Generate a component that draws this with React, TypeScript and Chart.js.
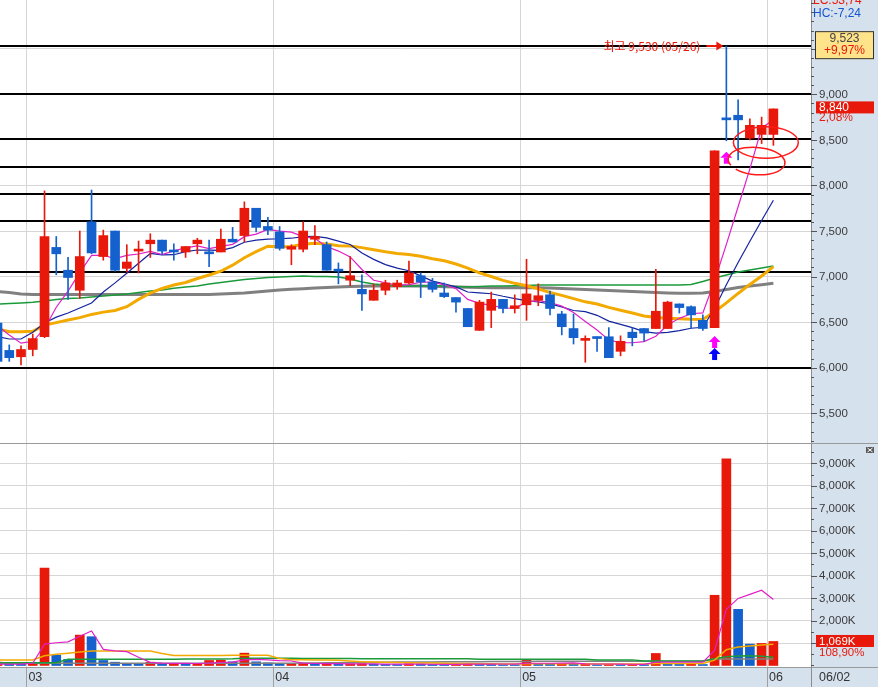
import React, { useEffect, useRef } from 'react';
import { Chart, registerables } from 'chart.js';

Chart.register(...registerables);

// ---------------- data ----------------
const monthGridIdx = [2.5, 23.5, 44.5, 65.5];
const monthLabels = ['03', '04', '05', '06'];
const lastDateLabel = '06/02';
const highDateLabel = '05/26';

const opens = [6490, 6190, 6120, 6200, 6340, 7320, 7070, 6850, 7600, 7220, 7500, 7090, 7280, 7360, 7400, 7290, 7270, 7360, 7270, 7270, 7410, 7450, 7750, 7550, 7490, 7300, 7300, 7410, 7350, 7080, 6960, 6860, 6740, 6850, 6890, 6930, 7010, 6940, 6820, 6770, 6650, 6410, 6630, 6750, 6650, 6690, 6740, 6800, 6590, 6430, 6300, 6340, 6340, 6180, 6390, 6430, 6430, 6430, 6700, 6670, 6520, 6440, 8740, 8770, 8520, 8560, 8560];
const highs = [6520, 6250, 6240, 6370, 7940, 7440, 7210, 7500, 7950, 7510, 7500, 7350, 7390, 7470, 7400, 7360, 7330, 7420, 7400, 7520, 7540, 7820, 7750, 7650, 7550, 7350, 7600, 7560, 7380, 7150, 7220, 7020, 6920, 6960, 6960, 7170, 7040, 6980, 6930, 6770, 6650, 6740, 6830, 6750, 6800, 7190, 6920, 6840, 6620, 6590, 6350, 6340, 6440, 6350, 6440, 6430, 7080, 6730, 6700, 6680, 6580, 8380, 9530, 8940, 8730, 8750, 8840];
const lows = [6050, 6070, 6030, 6130, 6330, 7020, 6750, 6760, 7250, 7180, 7060, 7050, 7040, 7210, 7240, 7180, 7210, 7250, 7110, 7270, 7380, 7380, 7490, 7460, 7290, 7130, 7270, 7350, 7070, 6920, 6900, 6630, 6740, 6800, 6860, 6920, 6770, 6830, 6770, 6610, 6450, 6410, 6440, 6600, 6600, 6520, 6680, 6580, 6360, 6260, 6060, 6180, 6110, 6130, 6240, 6290, 6430, 6430, 6600, 6430, 6410, 6440, 8490, 8280, 8500, 8460, 8440];
const closes = [6070, 6110, 6200, 6320, 7440, 7250, 6990, 7220, 7260, 7450, 7070, 7160, 7300, 7400, 7280, 7270, 7330, 7400, 7250, 7410, 7380, 7750, 7540, 7510, 7310, 7330, 7500, 7440, 7070, 7060, 7010, 6810, 6850, 6930, 6930, 7040, 6940, 6860, 6780, 6720, 6450, 6720, 6750, 6650, 6680, 6810, 6790, 6650, 6450, 6330, 6320, 6320, 6110, 6290, 6330, 6380, 6620, 6720, 6660, 6580, 6430, 8380, 8720, 8720, 8660, 8660, 8840];

const ma5 = [6460, 6360, 6270, 6290, 6428, 6664, 6840, 7044, 7232, 7234, 7198, 7232, 7248, 7276, 7242, 7282, 7316, 7336, 7306, 7332, 7354, 7438, 7466, 7518, 7498, 7488, 7438, 7418, 7330, 7280, 7216, 7078, 6960, 6932, 6906, 6912, 6938, 6940, 6910, 6868, 6750, 6706, 6684, 6658, 6650, 6722, 6736, 6716, 6676, 6606, 6508, 6414, 6306, 6274, 6274, 6286, 6346, 6468, 6542, 6592, 6602, 6954, 7354, 7766, 8182, 8628, 8720];
const ma10 = [6340, 6315, 6315, 6390, 6490, 6555, 6600, 6655, 6710, 6831, 6931, 7036, 7146, 7254, 7238, 7240, 7274, 7292, 7291, 7287, 7318, 7377, 7401, 7412, 7415, 7421, 7438, 7442, 7424, 7389, 7352, 7258, 7189, 7131, 7093, 7064, 7008, 6950, 6921, 6887, 6831, 6822, 6812, 6784, 6759, 6736, 6721, 6700, 6667, 6628, 6615, 6575, 6511, 6475, 6440, 6397, 6380, 6387, 6408, 6433, 6444, 6650, 6911, 7154, 7387, 7615, 7837];
const ma20 = [6425, 6395, 6395, 6400, 6468, 6495, 6523, 6550, 6585, 6610, 6628, 6670, 6750, 6820, 6870, 6907, 6935, 6979, 7017, 7059, 7125, 7207, 7274, 7333, 7327, 7331, 7356, 7367, 7358, 7338, 7335, 7318, 7295, 7272, 7254, 7243, 7223, 7196, 7173, 7138, 7092, 7040, 7001, 6958, 6926, 6900, 6865, 6825, 6794, 6758, 6723, 6699, 6662, 6630, 6600, 6567, 6551, 6544, 6538, 6531, 6530, 6613, 6711, 6815, 6914, 7006, 7109];
const ma60 = [6699, 6704, 6710, 6718, 6732, 6748, 6759, 6765, 6776, 6787, 6798, 6809, 6825, 6842, 6853, 6871, 6886, 6897, 6918, 6935, 6951, 6968, 6979, 6990, 6995, 7001, 7006, 7001, 7001, 6995, 6973, 6940, 6918, 6907, 6897, 6897, 6897, 6900, 6897, 6891, 6886, 6891, 6897, 6897, 6900, 6902, 6907, 6907, 6907, 6907, 6907, 6907, 6907, 6907, 6907, 6907, 6907, 6907, 6907, 6913, 6946, 6984, 7017, 7050, 7072, 7094, 7116];
const ma120 = [6836, 6825, 6809, 6803, 6803, 6803, 6803, 6803, 6803, 6803, 6803, 6803, 6803, 6803, 6803, 6803, 6803, 6803, 6803, 6809, 6814, 6820, 6831, 6842, 6853, 6860, 6867, 6875, 6880, 6886, 6891, 6894, 6897, 6897, 6897, 6897, 6897, 6894, 6889, 6886, 6882, 6880, 6878, 6878, 6878, 6878, 6878, 6875, 6869, 6864, 6858, 6853, 6847, 6842, 6836, 6831, 6825, 6820, 6816, 6816, 6820, 6836, 6858, 6880, 6897, 6911, 6926];

const volumes = [150, 80, 80, 110, 4332, 460, 268, 1353, 1282, 223, 147, 89, 85, 147, 76, 80, 62, 80, 223, 237, 164, 550, 164, 119, 76, 90, 95, 60, 100, 55, 70, 80, 60, 50, 45, 75, 60, 45, 40, 50, 90, 80, 65, 45, 40, 270, 80, 60, 85, 70, 80, 40, 60, 45, 55, 40, 536, 58, 50, 60, 45, 3126, 9200, 2501, 950, 981.6, 1069];
const volMa5 = [60, 55, 60, 98, 950, 1012, 1050, 1305, 1539, 717, 655, 619, 365, 138, 109, 95, 90, 89, 104, 136, 153, 251, 268, 247, 215, 200, 109, 88, 84, 80, 76, 73, 73, 63, 61, 62, 58, 55, 53, 54, 57, 61, 65, 66, 64, 100, 100, 99, 107, 113, 75, 67, 67, 59, 56, 48, 147, 147, 148, 149, 150, 668, 2496, 2986, 3164, 3352, 2940];
const volMa20 = [250, 250, 250, 250, 430, 500, 550, 600, 640, 640, 640, 640, 640, 640, 530, 440, 440, 440, 440, 440, 460, 460, 460, 460, 310, 260, 255, 250, 240, 230, 200, 170, 150, 140, 130, 120, 115, 110, 100, 90, 85, 80, 75, 72, 70, 80, 80, 78, 76, 75, 74, 72, 70, 70, 68, 66, 88, 88, 86, 86, 86, 240, 700, 820, 870, 910, 950];
const volMa60 = [125, 125, 125, 125, 125, 125, 280, 280, 280, 280, 280, 280, 280, 280, 280, 280, 285, 290, 290, 290, 295, 320, 320, 320, 320, 320, 310, 310, 310, 310, 310, 300, 300, 300, 300, 300, 300, 300, 300, 300, 300, 280, 280, 280, 280, 280, 280, 280, 280, 280, 280, 250, 250, 250, 250, 200, 200, 200, 200, 200, 200, 300, 390, 420, 430, 410, 370];
const volMa120 = [100, 100, 100, 100, 100, 100, 100, 100, 100, 100, 100, 100, 100, 100, 100, 100, 100, 100, 100, 100, 100, 100, 100, 100, 100, 100, 110, 115, 120, 125, 130, 135, 140, 145, 150, 155, 160, 160, 165, 165, 170, 170, 175, 175, 180, 180, 185, 185, 185, 190, 190, 190, 190, 190, 190, 190, 190, 190, 190, 190, 190, 290, 290, 290, 290, 290, 290];

const levelLines = [9525, 9000, 8505, 8205, 7905, 7615, 7055, 6000];
const priceTickValues = [5500, 6000, 6500, 7000, 7500, 8000, 8500, 9000, 9500];
const volTickValues = [1000, 2000, 3000, 4000, 5000, 6000, 7000, 8000, 9000];

const signalIdx = [61, 61, 62];
const signalPrice = [6348, 6216, 8370];
const signalColor = ['#ff00ff', '#0000ff', '#ff00ff'];

const headerLC = 'LC:53,74';
const headerHC = 'HC:-7,24';
const boxPrice = 9523;
const boxChange = '+9,97%';

// ---------------- layout / style constants ----------------
const W = 878;
const PRICE_H = 443;
const VOL_H = 244;
const AXIS_W = 67;
const X_MIN = 0.213;
const X_MAX = 69.2;
const P_MIN = 5174;
const P_MAX = 10035;
const V_MIN = -67;
const V_MAX = 9858;

const RED = '#e8190b';
const BLUE = '#1461cd';
const PANEL_BG = '#d6e1ee';
const GRID = '#d6d6d6';
const AXIS_LINE = '#8c8c8c';
const LABEL_COLOR = '#3a3a3a';
const AXIS_FONT = '11.5px "Liberation Sans", Arial, sans-serif';

const fmt = (v: number) => Math.round(v).toString().replace(/\B(?=(\d{3})+(?!\d))/g, ',');
const idx = closes.map((_, i) => i);

function lineDs(label: string, arr: number[], color: string, width: number, order: number) {
  return {
    type: 'line',
    label,
    data: idx.map((i) => ({ x: i, y: arr[i] })),
    borderColor: color,
    backgroundColor: color,
    borderWidth: width,
    pointRadius: 0,
    tension: 0,
    fill: false,
    order,
  };
}

function drawUpArrow(ctx: CanvasRenderingContext2D, px: number, py: number, color: string) {
  ctx.fillStyle = color;
  ctx.beginPath();
  ctx.moveTo(px, py);
  ctx.lineTo(px - 6, py + 6);
  ctx.lineTo(px + 6, py + 6);
  ctx.closePath();
  ctx.fill();
  ctx.fillRect(px - 2.5, py + 6, 5, 6);
}

const priceDecor = {
  id: 'priceDecor',
  beforeDraw(chart: any) {
    const { ctx, chartArea: ca, width, height } = chart;
    ctx.save();
    ctx.fillStyle = '#ffffff';
    ctx.fillRect(0, 0, width, height);
    ctx.fillStyle = PANEL_BG;
    ctx.fillRect(ca.right, 0, width - ca.right, height);
    ctx.restore();
  },
  beforeDatasetsDraw(chart: any) {
    const { ctx, chartArea: ca, scales } = chart;
    const ys = scales.y;
    ctx.save();
    ctx.beginPath();
    ctx.rect(ca.left, ca.top, ca.right - ca.left, ca.bottom - ca.top);
    ctx.clip();
    ctx.strokeStyle = '#000000';
    ctx.lineWidth = 2;
    levelLines.forEach((v) => {
      const py = Math.round(ys.getPixelForValue(v));
      ctx.beginPath();
      ctx.moveTo(ca.left, py);
      ctx.lineTo(ca.right, py);
      ctx.stroke();
    });
    ctx.restore();
  },
  afterDraw(chart: any) {
    const { ctx, chartArea: ca, scales } = chart;
    const xs = scales.x;
    const ys = scales.y;
    const n = closes.length;
    ctx.save();
    // axis tick marks
    ctx.strokeStyle = '#555';
    ctx.lineWidth = 1;
    for (let v = Math.ceil(P_MIN / 100) * 100; v <= P_MAX; v += 100) {
      const py = Math.round(ys.getPixelForValue(v)) + 0.5;
      const len = v % 500 === 0 ? 6 : 3;
      ctx.beginPath();
      ctx.moveTo(ca.right, py);
      ctx.lineTo(ca.right + len, py);
      ctx.stroke();
    }
    ctx.fillStyle = LABEL_COLOR;
    ctx.font = AXIS_FONT;
    ctx.textBaseline = 'middle';
    ctx.textAlign = 'left';
    priceTickValues.forEach((v) => {
      const py = ys.getPixelForValue(v);
      if (py > 14) ctx.fillText(fmt(v), ca.right + 8, py + 0.5);
    });

    // header texts
    ctx.font = '12px "Liberation Sans", Arial, sans-serif';
    ctx.fillStyle = '#e8190b';
    ctx.fillText(headerLC, ca.right + 2, 1);
    ctx.fillStyle = '#1455d0';
    ctx.fillText(headerHC, ca.right + 2, 14);

    // yellow box
    const by = ys.getPixelForValue(boxPrice) - 1.5;
    ctx.fillStyle = '#ffe38a';
    ctx.fillRect(ca.right + 4, by - 14, 59, 28);
    ctx.strokeStyle = '#333';
    ctx.strokeRect(ca.right + 4.5, by - 13.5, 58, 27);
    ctx.textAlign = 'center';
    ctx.fillStyle = '#444';
    ctx.fillText(fmt(boxPrice), ca.right + 33.5, by - 6);
    ctx.fillStyle = '#e8190b';
    ctx.fillText(boxChange, ca.right + 33.5, by + 6);

    // current price box
    const last = closes[n - 1];
    const cy = ys.getPixelForValue(last) - 1.5;
    ctx.fillStyle = '#e8190b';
    ctx.fillRect(ca.right + 5, cy - 6, 58, 12);
    ctx.textAlign = 'left';
    ctx.fillStyle = '#ffffff';
    ctx.fillText(fmt(last), ca.right + 8, cy + 0.5);
    ctx.fillStyle = '#e8190b';
    const chg = ((last / closes[n - 2] - 1) * 100).toFixed(2).replace('.', ',') + '%';
    ctx.fillText(chg, ca.right + 8, cy + 10);

    // clip to plot for annotations
    ctx.beginPath();
    ctx.rect(ca.left, ca.top, ca.right - ca.left, ca.bottom - ca.top);
    ctx.clip();

    // highest price annotation
    let hi = 0;
    highs.forEach((h, i) => { if (h > highs[hi]) hi = i; });
    const hx = xs.getPixelForValue(hi);
    const hy = Math.round(ys.getPixelForValue(highs[hi]));
    ctx.font = '12px "Noto Sans CJK KR", sans-serif';
    ctx.fillStyle = '#e8190b';
    ctx.textAlign = 'right';
    ctx.fillText(`최고 ${fmt(highs[hi])} (${highDateLabel})`, hx - 26, hy);
    ctx.strokeStyle = '#e8190b';
    ctx.lineWidth = 2;
    ctx.beginPath();
    ctx.moveTo(hx - 20, hy);
    ctx.lineTo(hx - 9, hy);
    ctx.stroke();
    ctx.beginPath();
    ctx.moveTo(hx - 3, hy);
    ctx.lineTo(hx - 10, hy - 4.5);
    ctx.lineTo(hx - 10, hy + 4.5);
    ctx.closePath();
    ctx.fill();

    // signal arrows
    signalIdx.forEach((si, k) => {
      drawUpArrow(ctx, xs.getPixelForValue(si), ys.getPixelForValue(signalPrice[k]), signalColor[k]);
    });

    // hand-drawn ellipses around last candles
    const unitX = xs.getPixelForValue(1) - xs.getPixelForValue(0);
    const unitY = ys.getPixelForValue(0) - ys.getPixelForValue(100);
    ctx.strokeStyle = '#ff1a1a';
    ctx.lineWidth = 1.5;
    ctx.beginPath();
    ctx.ellipse(xs.getPixelForValue(65.36), ys.getPixelForValue(8471), 2.76 * unitX, 1.73 * unitY, 0, 0, Math.PI * 2);
    ctx.stroke();
    ctx.beginPath();
    ctx.ellipse(xs.getPixelForValue(64.57), ys.getPixelForValue(8268), 2.42 * unitX, 1.5 * unitY, 0.08, Math.PI * 0.85, Math.PI * 2.75);
    ctx.stroke();
    ctx.restore();
  },
};

const volDecor = {
  id: 'volDecor',
  beforeDraw(chart: any) {
    const { ctx, chartArea: ca, width, height } = chart;
    ctx.save();
    ctx.fillStyle = '#ffffff';
    ctx.fillRect(0, 0, width, height);
    ctx.fillStyle = PANEL_BG;
    ctx.fillRect(ca.right, 0, width - ca.right, height);
    ctx.fillRect(0, ca.bottom, width, height - ca.bottom);
    ctx.restore();
  },
  afterDraw(chart: any) {
    const { ctx, chartArea: ca, scales, width, height } = chart;
    const xs = scales.x;
    const ys = scales.y;
    const n = volumes.length;
    ctx.save();
    ctx.strokeStyle = '#9a9a9a';
    ctx.lineWidth = 1;
    ctx.beginPath();
    ctx.moveTo(0, 0.5);
    ctx.lineTo(width, 0.5);
    ctx.moveTo(0, Math.round(ca.bottom) + 0.5);
    ctx.lineTo(width, Math.round(ca.bottom) + 0.5);
    ctx.stroke();
    ctx.strokeStyle = AXIS_LINE;
    ctx.beginPath();
    ctx.moveTo(Math.round(ca.right) + 0.5, ca.bottom);
    ctx.lineTo(Math.round(ca.right) + 0.5, height);
    ctx.stroke();

    // ticks
    ctx.strokeStyle = '#555';
    for (let v = 0; v <= V_MAX; v += 500) {
      const py = Math.round(ys.getPixelForValue(v)) + 0.5;
      const len = v % 1000 === 0 && v > 0 ? 6 : 3;
      ctx.beginPath();
      ctx.moveTo(ca.right, py);
      ctx.lineTo(ca.right + len, py);
      ctx.stroke();
    }
    ctx.fillStyle = LABEL_COLOR;
    ctx.font = AXIS_FONT;
    ctx.textBaseline = 'middle';
    ctx.textAlign = 'left';
    volTickValues.forEach((v) => {
      ctx.fillText(fmt(v) + 'K', ca.right + 8, ys.getPixelForValue(v) + 0.5);
    });

    // last volume box
    const lv = volumes[n - 1];
    const vy = ys.getPixelForValue(lv) - 0.5;
    ctx.fillStyle = '#e8190b';
    ctx.fillRect(ca.right + 5, vy - 6, 58, 12);
    ctx.fillStyle = '#ffffff';
    ctx.fillText(fmt(lv) + 'K', ca.right + 8, vy + 0.5);
    ctx.fillStyle = '#e8190b';
    ctx.fillText(((lv / volumes[n - 2]) * 100).toFixed(2).replace('.', ',') + '%', ca.right + 8, vy + 12);

    // close icon
    ctx.fillStyle = '#5a5a5a';
    ctx.fillRect(width - 12, 4, 8, 6);
    ctx.strokeStyle = '#ffffff';
    ctx.beginPath();
    ctx.moveTo(width - 10.5, 5);
    ctx.lineTo(width - 5.5, 9);
    ctx.moveTo(width - 5.5, 5);
    ctx.lineTo(width - 10.5, 9);
    ctx.stroke();

    // month labels in strip
    const sy = (ca.bottom + height) / 2 + 0.5;
    ctx.fillStyle = '#333';
    ctx.font = '12.5px "Liberation Sans", Arial, sans-serif';
    monthGridIdx.forEach((v, k) => {
      ctx.fillText(monthLabels[k], xs.getPixelForValue(v) + 1.5, sy);
    });
    ctx.fillText(lastDateLabel, ca.right + 8, sy);
    ctx.restore();
  },
};

export default function App() {
  const priceRef = useRef<HTMLCanvasElement>(null);
  const volRef = useRef<HTMLCanvasElement>(null);

  useEffect(() => {
    const candleColors = idx.map((i) => (closes[i] >= opens[i] ? RED : BLUE));
    const volColors = idx.map((i) => (i === 0 || volumes[i] > volumes[i - 1] ? RED : BLUE));

    const xScale = (drawTicks: boolean) => ({
      type: 'linear',
      min: X_MIN,
      max: X_MAX,
      offset: false,
      afterBuildTicks: (s: any) => {
        s.ticks = monthGridIdx.map((v) => ({ value: v }));
      },
      ticks: { display: false },
      grid: { color: GRID, drawTicks, tickLength: 20, tickColor: '#a0a0a0', offset: false },
      border: { display: false },
    });

    const priceChart = new Chart(priceRef.current as HTMLCanvasElement, {
      type: 'bar',
      data: {
        datasets: [
          {
            type: 'bar',
            label: 'body',
            data: idx.map((i) => ({ x: i, y: [opens[i], closes[i]] })),
            backgroundColor: candleColors,
            borderWidth: 0,
            barThickness: 9,
            minBarLength: 2,
            grouped: false,
            order: 0,
          },
          {
            type: 'bar',
            label: 'wick',
            data: idx.map((i) => ({ x: i, y: [lows[i], highs[i]] })),
            backgroundColor: candleColors,
            borderWidth: 0,
            barThickness: 1,
            grouped: false,
            order: 1,
          },
          lineDs('MA5', ma5, '#e020c8', 1.2, 2),
          lineDs('MA10', ma10, '#1424a0', 1.2, 3),
          lineDs('MA20', ma20, '#f2a900', 3, 4),
          lineDs('MA60', ma60, '#1a9a3a', 1.5, 5),
          lineDs('MA120', ma120, '#808080', 3, 6),
        ] as any,
      },
      options: {
        animation: false,
        responsive: false,
        devicePixelRatio: 1,
        events: [],
        layout: { padding: 0 },
        plugins: { legend: { display: false }, tooltip: { enabled: false } },
        scales: {
          x: xScale(false) as any,
          y: {
            type: 'linear',
            position: 'right',
            min: P_MIN,
            max: P_MAX,
            afterBuildTicks: (s: any) => {
              s.ticks = priceTickValues.map((v) => ({ value: v }));
            },
            afterFit: (s: any) => {
              s.width = AXIS_W;
            },
            ticks: { display: false },
            grid: { color: GRID, drawTicks: false },
            border: { display: true, color: AXIS_LINE },
          },
        },
      },
      plugins: [priceDecor],
    } as any);

    const volChart = new Chart(volRef.current as HTMLCanvasElement, {
      type: 'bar',
      data: {
        datasets: [
          {
            type: 'bar',
            label: 'volume',
            data: idx.map((i) => ({ x: i, y: volumes[i] })),
            backgroundColor: volColors,
            borderWidth: 0,
            barThickness: 9,
            grouped: false,
            order: 10,
          },
          lineDs('VMA5', volMa5, '#e020c8', 1.2, 0),
          lineDs('VMA20', volMa20, '#f2a900', 1.5, 1),
          lineDs('VMA60', volMa60, '#1a9a3a', 1.5, 2),
          lineDs('VMA120', volMa120, '#808080', 1.5, 3),
        ] as any,
      },
      options: {
        animation: false,
        responsive: false,
        devicePixelRatio: 1,
        events: [],
        layout: { padding: { top: 1, left: 0, right: 0, bottom: 0 } },
        plugins: { legend: { display: false }, tooltip: { enabled: false } },
        scales: {
          x: xScale(true) as any,
          y: {
            type: 'linear',
            position: 'right',
            min: V_MIN,
            max: V_MAX,
            afterBuildTicks: (s: any) => {
              s.ticks = volTickValues.map((v) => ({ value: v }));
            },
            afterFit: (s: any) => {
              s.width = AXIS_W;
            },
            ticks: { display: false },
            grid: { color: GRID, drawTicks: false },
            border: { display: true, color: AXIS_LINE },
          },
        },
      },
      plugins: [volDecor],
    } as any);

    return () => {
      priceChart.destroy();
      volChart.destroy();
    };
  }, []);

  return (
    <div style={{ position: 'fixed', left: 0, top: 0, width: W, height: PRICE_H + VOL_H, background: '#fff', overflow: 'hidden' }}>
      <canvas ref={priceRef} width={W} height={PRICE_H} style={{ position: 'absolute', left: 0, top: 0, width: W, height: PRICE_H, display: 'block' }} />
      <canvas ref={volRef} width={W} height={VOL_H} style={{ position: 'absolute', left: 0, top: PRICE_H, width: W, height: VOL_H, display: 'block' }} />
    </div>
  );
}
